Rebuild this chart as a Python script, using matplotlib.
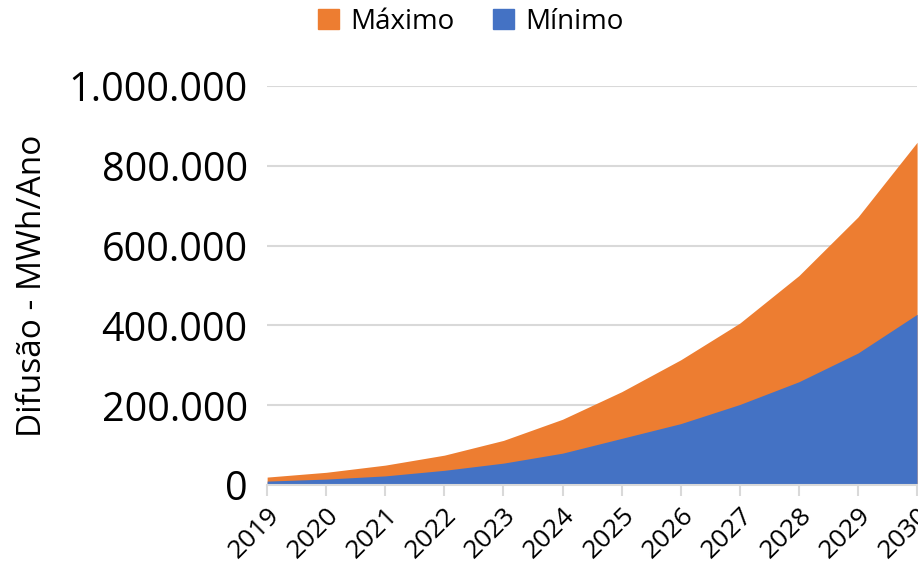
"""Area chart: projected distributed generation diffusion, max vs min scenario."""
import matplotlib

matplotlib.use("Agg")
import matplotlib.pyplot as plt
from matplotlib.patches import Patch
from matplotlib.ticker import FuncFormatter

years = [2019, 2020, 2021, 2022, 2023, 2024, 2025, 2026, 2027, 2028, 2029, 2030]
maximo = [20000, 32000, 50000, 75000, 112000, 165000, 234000, 314000, 406000, 525000, 672000, 859000]
minimo = [10000, 15000, 23000, 37000, 55000, 80000, 117000, 154000, 202000, 259000, 331000, 428000]
y_ticks = [0, 200000, 400000, 600000, 800000, 1000000]

ORANGE = "#ed7d31"
BLUE = "#4472c4"
GRID = "#d9d9d9"

plt.rcParams["font.family"] = ["Open Sans", "DejaVu Sans"]

fig = plt.figure(figsize=(9.18, 5.70), dpi=100)
ax = fig.add_axes([0.291, 0.149, 0.708, 0.700])

ax.fill_between(years, 0, maximo, color=ORANGE, lw=0, zorder=2)
ax.fill_between(years, 0, minimo, color=BLUE, lw=0, zorder=3)

ax.set_xlim(years[0], years[-1])
ax.set_ylim(0, 1000000)
ax.set_yticks(y_ticks)
ax.yaxis.set_major_formatter(FuncFormatter(lambda v, _: f"{int(v):,}".replace(",", ".")))
ax.set_xticks(years)
ax.set_xticklabels([str(y) for y in years], rotation=45, ha="right",
                   rotation_mode="anchor", fontsize=19)

ax.tick_params(axis="y", length=0, pad=14, labelsize=28.5)
ax.tick_params(axis="x", length=8, width=1.5, color=GRID, pad=5)
ax.grid(axis="y", color=GRID, lw=1.5, zorder=0)
ax.set_axisbelow(True)
for side in ("top", "right", "left"):
    ax.spines[side].set_visible(False)
ax.spines["bottom"].set_color(GRID)
ax.spines["bottom"].set_linewidth(1.5)
ax.spines["bottom"].set_zorder(4)

ax.set_ylabel("Difusão - MWh/Ano", fontsize=24, labelpad=14)

handles = [Patch(color=ORANGE, label="Máximo"), Patch(color=BLUE, label="Mínimo")]
fig.legend(handles=handles, loc="upper center", bbox_to_anchor=(0.513, 1.03), ncol=2,
           frameon=False, fontsize=20, handlelength=0.75, handleheight=0.75,
           handletextpad=0.4, columnspacing=1.4)

fig.savefig("out.png", dpi=100)
